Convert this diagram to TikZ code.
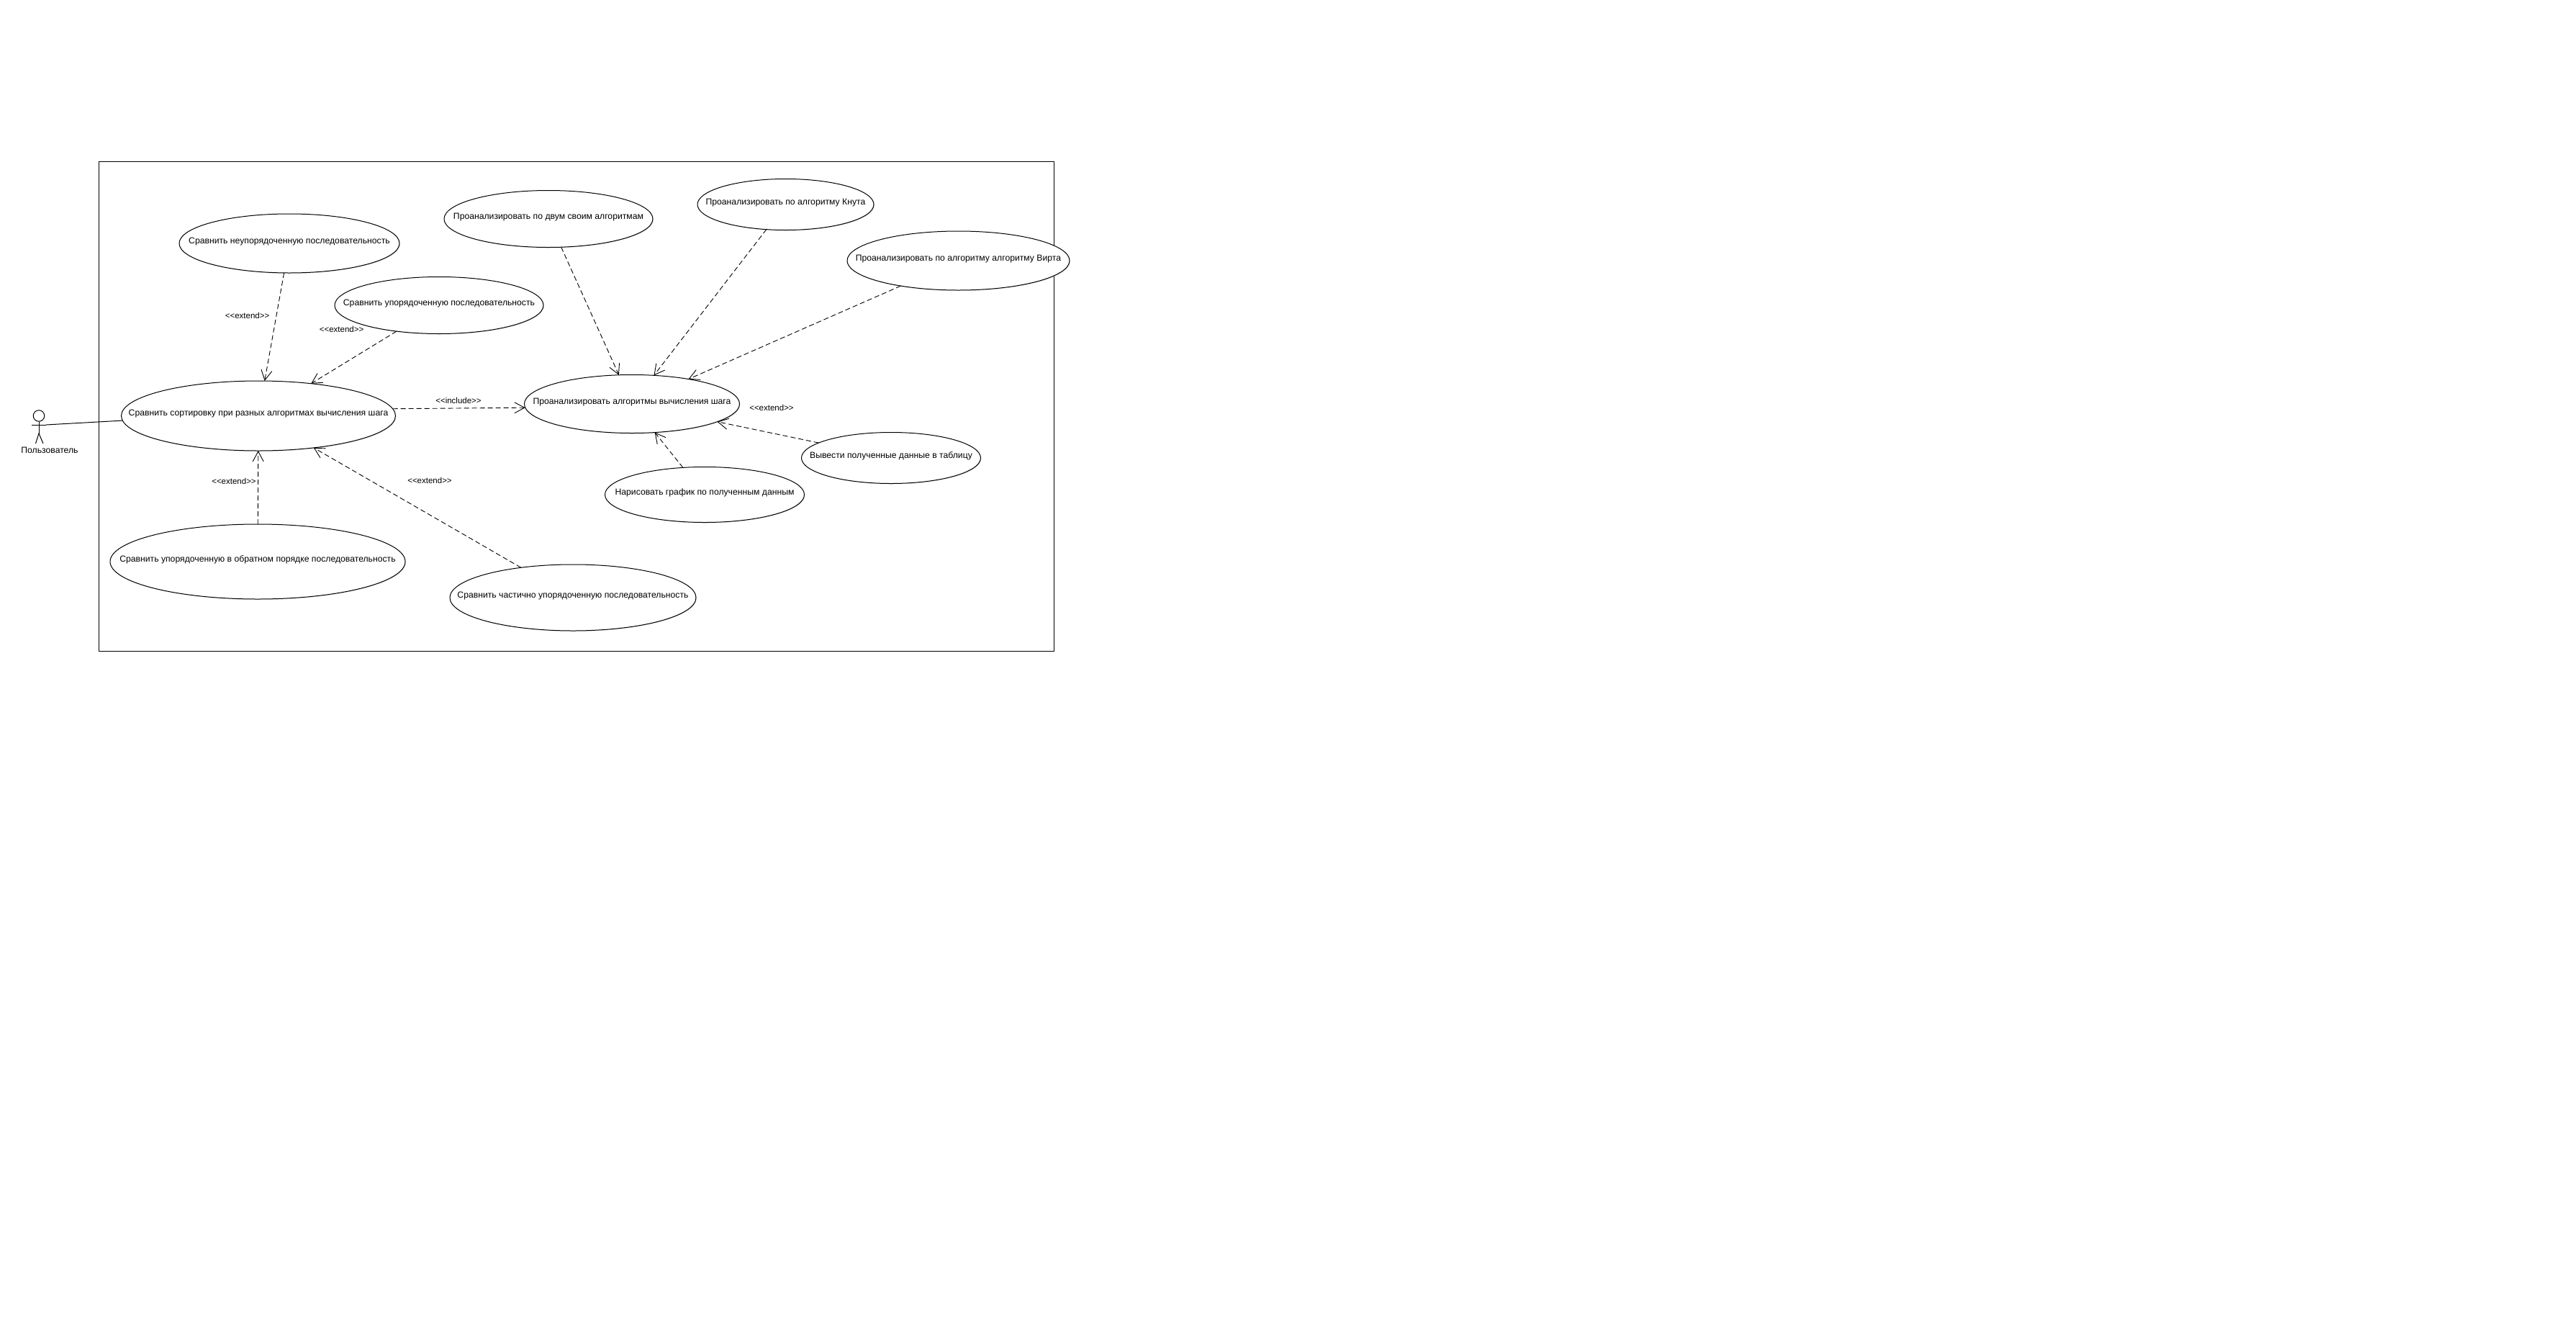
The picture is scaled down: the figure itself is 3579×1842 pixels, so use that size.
\documentclass[tikz,border=0pt]{standalone}
\usepackage{fontspec}
\setmainfont{Liberation Sans}[Ligatures=ResetAll]
\usetikzlibrary{shapes.geometric,arrows.meta,shadows}
\newcommand{\uctext}[1]{\makebox[0pt][c]{#1}}
\newcommand{\oo}{<\kern0pt<}
\newcommand{\cc}{>\kern0pt>}
\tikzset{
  uc/.style={ellipse,draw=black,fill=white,line width=1pt,inner sep=0pt,outer sep=0pt,
    drop shadow={shadow xshift=1pt,shadow yshift=-1pt,fill=black!25,opacity=.5},
    text height=9pt,text depth=9pt,font=\fontsize{12.2}{14}\selectfont},
  dep/.style={draw=black,line width=.9pt,dash pattern=on 7pt off 4pt,-{Straight Barb[length=14pt,width=15pt,line width=.9pt]}},
  lbl/.style={inner sep=0pt,font=\fontsize{11.5}{14}\selectfont},
  actorlbl/.style={inner sep=0pt,font=\fontsize{12.2}{14}\selectfont},
  boundary/.style={draw=black,line width=1pt},
  assoc/.style={draw=black,line width=1pt}
}
\begin{document}
\begin{tikzpicture}[x=1pt,y=-1pt]
\useasboundingbox (0,0) rectangle (3579,1842);
\draw[boundary] (137,224) rectangle (1464.5,904);

\node[uc,minimum width=306pt,minimum height=82pt] (unordered) at (402,338) {\uctext{Сравнить неупорядоченную последовательность}};
\node[uc,minimum width=290pt,minimum height=79pt] (ordered) at (610,424) {\uctext{Сравнить упорядоченную последовательность}};
\node[uc,minimum width=381pt,minimum height=97pt] (main) at (359,577.5) {\uctext{Сравнить сортировку при разных алгоритмах вычисления шага}};
\node[uc,minimum width=410pt,minimum height=104pt] (reverse) at (358,780) {\uctext{Сравнить упорядоченную в обратном порядке последовательность}};
\node[uc,minimum width=342pt,minimum height=92pt] (partial) at (796,830) {\uctext{Сравнить частично упорядоченную последовательность}};
\node[uc,minimum width=290pt,minimum height=79pt] (two) at (762,304) {\uctext{Проанализировать по двум своим алгоритмам}};
\node[uc,minimum width=245pt,minimum height=71pt] (knuth) at (1091.5,284) {\uctext{Проанализировать по алгоритму Кнута}};
\node[uc,minimum width=309pt,minimum height=82pt] (wirth) at (1331.5,362) {\uctext{Проанализировать по алгоритму алгоритму Вирта}};
\node[uc,minimum width=299pt,minimum height=81pt] (analyse) at (878,561) {\uctext{Проанализировать алгоритмы вычисления шага}};
\node[uc,minimum width=249pt,minimum height=71pt] (table) at (1238,636) {\uctext{Вывести полученные данные в таблицу}};
\node[uc,minimum width=277pt,minimum height=77pt] (graph) at (979,687) {\uctext{Нарисовать график по полученным данным}};

\node[circle,draw=black,line width=1pt,minimum size=15.5pt,inner sep=0pt] (head) at (54,577.5) {};
\coordinate (armL) at (44,590);
\coordinate (armR) at (64,590);
\coordinate (hip) at (54,602);
\coordinate (footL) at (49.5,616);
\coordinate (footR) at (60,616);
\draw[assoc] (head.south) -- (hip);
\draw[assoc] (armL) -- (armR);
\draw[assoc] (footL) -- (hip) -- (footR);
\node[actorlbl] (actorlabel) at (69,625) {Пользователь};

\draw[assoc] (armR) -- (main.182.3);

\draw[dep] (unordered) -- (main);
\draw[dep] (ordered) -- (main);
\draw[dep] (reverse) -- (main);
\draw[dep] (partial) -- (main);
\draw[dep] (main.3.2) -- (analyse.182.3);
\draw[dep] (two) -- (analyse);
\draw[dep] (knuth) -- (analyse);
\draw[dep] (wirth) -- (analyse);
\draw[dep] (table) -- (analyse);
\draw[dep] (graph) -- (analyse);

\node[lbl] (e1) at (343.6,438.7) {\oo extend\cc};
\node[lbl] (e2) at (474.6,457.7) {\oo extend\cc};
\node[lbl] (inc) at (637,556.7) {\oo include\cc};
\node[lbl] (e3) at (325,668.5) {\oo extend\cc};
\node[lbl] (e4) at (597,667.3) {\oo extend\cc};
\node[lbl] (e5) at (1072,566.7) {\oo extend\cc};
\end{tikzpicture}
\end{document}
